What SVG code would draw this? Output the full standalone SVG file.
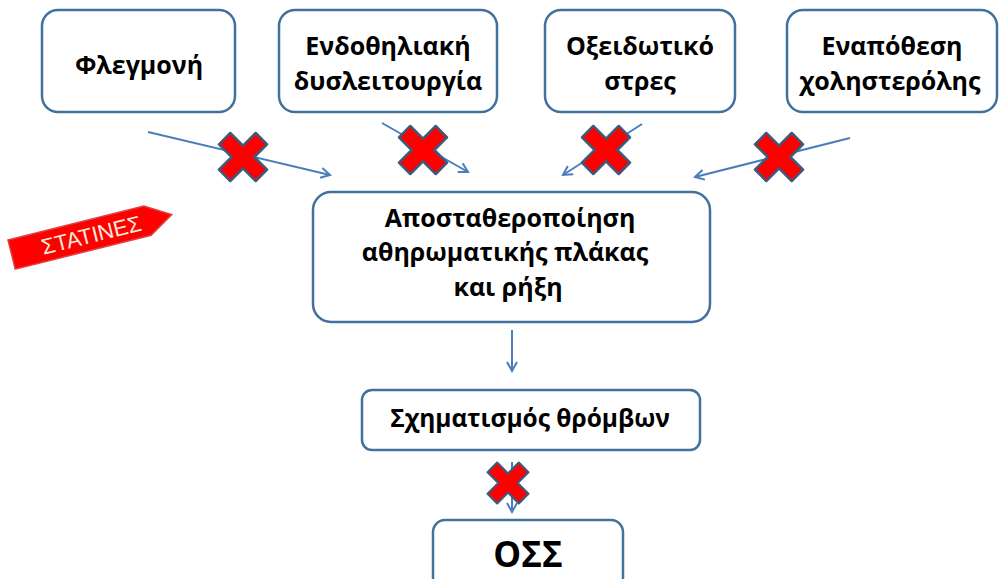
<svg xmlns="http://www.w3.org/2000/svg" width="1003" height="579" viewBox="0 0 1003 579">
<style>
.box{fill:#fff;stroke:#41719C;stroke-width:2.5}
.t{font-family:"Open Sans","Liberation Sans",Arial,sans-serif;font-weight:bold;font-size:25px;fill:#000;text-anchor:middle}
.c{stroke:#4A7EBB;stroke-width:2;fill:none;marker-end:url(#ah)}
.x{fill:#FF0000;stroke:#3C5A7A;stroke-width:2.5;stroke-linejoin:round}
</style>
<defs>
<marker id="ah" viewBox="0 0 12 12" refX="10" refY="6" markerWidth="12" markerHeight="12" markerUnits="userSpaceOnUse" orient="auto">
<path d="M1,1 L10,6 L1,11" fill="none" stroke="#4A7EBB" stroke-width="2"/>
</marker>
<polygon id="xm" class="x" points="-8,-26 8,-26 8,-8 26,-8 26,8 8,8 8,26 -8,26 -8,8 -26,8 -26,-8 -8,-8" transform="rotate(45)"/>
</defs>
<rect width="1003" height="579" fill="#fff"/>
<g id="connectors">
<line class="c" x1="148" y1="132" x2="330" y2="175"/>
<line class="c" x1="382" y1="123" x2="468" y2="172"/>
<line class="c" x1="642" y1="124" x2="563" y2="175"/>
<line class="c" x1="850" y1="138" x2="695" y2="177"/>
<line class="c" x1="512" y1="330" x2="512" y2="371"/>
<line class="c" x1="512" y1="462" x2="512" y2="512"/>
</g>
<g id="blocks">
<use href="#xm" x="243" y="157"/>
<use href="#xm" x="423" y="150"/>
<use href="#xm" x="606" y="150"/>
<use href="#xm" x="779" y="157"/>
<use href="#xm" x="508" y="483" transform="translate(508,483) scale(0.85) translate(-508,-483)"/>
</g>
<g id="n1"><rect class="box" x="42" y="10" width="193" height="102" rx="16"/><text class="t" x="139" y="74">Φλεγμονή</text></g>
<g id="n2"><rect class="box" x="279" y="10" width="218" height="102" rx="16"/><text class="t" x="388" y="55">Ενδοθηλιακή</text><text class="t" x="388" y="90">δυσλειτουργία</text></g>
<g id="n3"><rect class="box" x="545" y="10" width="190" height="102" rx="16"/><text class="t" x="640" y="55">Οξειδωτικό</text><text class="t" x="640" y="90">στρες</text></g>
<g id="n4"><rect class="box" x="787" y="10" width="210" height="102" rx="16"/><text class="t" x="892" y="55">Εναπόθεση</text><text class="t" x="890" y="90">χοληστερόλης</text></g>
<g id="n5"><rect class="box" x="313" y="192" width="397" height="130" rx="18"/><text class="t" x="510" y="227">Αποσταθεροποίηση</text><text class="t" x="505" y="261">αθηρωματικής πλάκας</text><text class="t" x="508" y="296">και ρήξη</text></g>
<g id="n6"><rect class="box" x="362" y="390" width="338" height="60" rx="10"/><text class="t" x="530" y="427" style="font-size:24.5px">Σχηματισμός θρόμβων</text></g>
<g id="n7"><rect class="box" x="433" y="520" width="190" height="70" rx="12"/><text class="t" x="528" y="567" style="font-size:35px">ΟΣΣ</text></g>
<g id="statines" transform="translate(8,240) rotate(-14)">
<polygon points="0,0 140,0 165,15 140,30 0,30" fill="#FF0000" stroke="#E04040" stroke-width="1.5"/>
<text x="82" y="23" style="font-family:'Liberation Sans',Arial,sans-serif;font-size:22px;fill:#F5EBDC;text-anchor:middle">ΣΤΑΤΙΝΕΣ</text>
</g>
</svg>
